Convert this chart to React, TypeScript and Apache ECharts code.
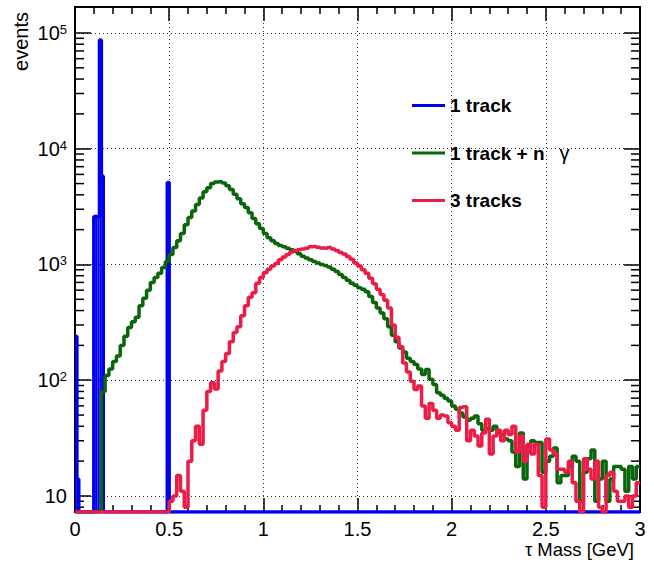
import { useEffect, useRef } from 'react';
import * as echarts from 'echarts';

const FONT = '"Liberation Sans", Arial, Helvetica, sans-serif';

// Mass axis (GeV) and histogram binning
const massMin = 0;
const massMax = 3;
const binWidth = 0.02;
const blueBinWidth = 0.01;

// Event counts axis range (log scale)
const eventsMin = 7.27;
const eventsMax = 167700;

const seriesNames = ['1 track', '1 track + n γ', '3 tracks'];
const seriesColors = ['#0000ee', '#0b660b', '#ec1c46'];

// 1 track: sparse 0.01-GeV bins (low edge, events); every other bin is empty
const blueLowEdges = [0.0, 0.01, 0.1, 0.11, 0.12, 0.13, 0.14, 0.49];
const blueEvents = [240, 14, 2600, 2600, 2600, 87000, 5800, 5100];

// 1 track + n γ: 0.02-GeV bins from 0 to 3
const greenEvents = [
  0, 0, 0, 0, 0, 0, 0, 80, 110, 125,
  145, 162, 200, 240, 285, 320, 350, 440, 510, 600,
  700, 770, 840, 940, 1060, 1220, 1400, 1600, 1850, 2200,
  2550, 2900, 3300, 3750, 4250, 4600, 5000, 5150, 5200, 5050,
  4800, 4450, 4050, 3700, 3350, 3100, 2800, 2500, 2250, 2050,
  1850, 1700, 1600, 1520, 1460, 1420, 1380, 1340, 1300, 1240,
  1180, 1140, 1100, 1060, 1030, 1000, 980, 950, 910, 870,
  820, 770, 730, 690, 660, 630, 610, 580, 530, 470,
  420, 380, 340, 290, 245, 215, 190, 175, 155, 145,
  137, 125, 112, 124, 102, 92, 78, 74, 70, 66,
  60, 56, 52, 48, 45, 47, 49, 42, 37, 38,
  37, 40, 35, 34, 31, 30, 24, 18, 35, 14,
  27, 30, 29, 29, 16, 20, 22, 26, 13, 15,
  15, 18, 22, 20, 9, 16, 21, 25, 9, 14,
  20, 9, 14, 18, 18, 17, 11, 18, 14, 18,
];

// 3 tracks: 0.02-GeV bins from 0 to 3
const redEvents = [
  0, 0, 0, 0, 0, 0, 0, 0, 0, 0,
  0, 0, 0, 0, 0, 0, 0, 0, 0, 0,
  0, 0, 0, 0, 0, 9, 10, 15, 11, 8,
  20, 30, 40, 28, 55, 80, 95, 84, 120, 145,
  170, 215, 258, 290, 360, 440, 520, 570, 690, 770,
  850, 910, 970, 1020, 1100, 1160, 1220, 1280, 1320, 1340,
  1360, 1380, 1420, 1440, 1410, 1390, 1380, 1400, 1360, 1320,
  1270, 1230, 1170, 1110, 1030, 970, 900, 840, 760, 680,
  610, 550, 490, 420, 300, 235, 196, 141, 118, 98,
  83, 89, 60, 47, 63, 55, 47, 50, 49, 43,
  40, 37, 58, 59, 30, 37, 33, 27, 35, 46,
  23, 33, 37, 30, 37, 34, 40, 24, 33, 20,
  28, 23, 28, 15, 8, 31, 25, 23, 17, 17,
  16, 20, 13, 9, 0, 21, 17, 14, 20, 8,
  0, 15, 16, 11, 9, 9, 10, 8, 10, 13,
];

// Expand the sparse 1-track list into full 0.01-GeV bins
const blueBinCount = Math.round((massMax - massMin) / blueBinWidth);
const blueFull: number[] = new Array(blueBinCount).fill(0);
blueLowEdges.forEach((edge, i) => {
  blueFull[Math.round((edge - massMin) / blueBinWidth)] = blueEvents[i];
});

// Step outline of a histogram; empty bins sit on the bottom of the frame
function histogramOutline(values: number[], width: number): number[][] {
  const pts: number[][] = [];
  values.forEach((v, i) => {
    const y = v > 0 ? v : eventsMin;
    const lo = +(massMin + i * width).toFixed(4);
    const hi = +(massMin + (i + 1) * width).toFixed(4);
    pts.push([lo, y], [hi, y]);
  });
  return pts;
}

// Filled bins of the 1-track histogram: [low edge, events]
const blueFillBins = blueLowEdges.map((edge, i) => [edge, blueEvents[i]]);

// Log-axis minor tick positions (2..9 of every decade in range)
const minorTickValues: number[] = [];
for (let d = 1; d <= 1e5; d *= 10) {
  for (let m = 2; m <= 9; m++) {
    const v = m * d;
    if (v > eventsMin && v < eventsMax) minorTickValues.push(v);
  }
}

const yLabel = (v: number) => {
  const e = Math.log10(v);
  const r = Math.round(e);
  if (Math.abs(e - r) > 1e-6) return '';
  return r === 1 ? '{b|10}' : `{b|10}{s|${r}}`;
};

const gridLine = { color: '#333', type: [1, 3] as number[], width: 1 };
const black = { color: '#000', width: 1.5 };

export default function App() {
  const ref = useRef<HTMLDivElement>(null);

  useEffect(() => {
    if (!ref.current) return;
    const chart = echarts.init(ref.current, undefined, { renderer: 'svg' });

    const histLine = (idx: number, data: number[][], width: number) => ({
      type: 'line',
      name: seriesNames[idx],
      data,
      showSymbol: false,
      symbol: 'none',
      clip: true,
      z: 2 + idx,
      itemStyle: { color: seriesColors[idx] },
      lineStyle: { color: seriesColors[idx], width },
      emphasis: { disabled: true },
    });

    const option: any = {
      animation: false,
      backgroundColor: '#ffffff',
      textStyle: { fontFamily: FONT },
      grid: { left: 75, right: 14, top: 7, bottom: 51, containLabel: false, outerBoundsMode: 'none' },
      xAxis: [
        {
          type: 'value',
          min: massMin,
          max: massMax,
          interval: 0.5,
          position: 'bottom',
          axisLine: { show: true, onZero: false, lineStyle: black },
          axisTick: { show: true, inside: true, length: 14, lineStyle: black },
          minorTick: { show: true, splitNumber: 5, length: 7, lineStyle: black },
          axisLabel: { show: true, margin: 7, fontSize: 20, color: '#000', fontFamily: FONT },
          splitLine: { show: true, lineStyle: gridLine },
          minorSplitLine: { show: false },
        },
        {
          type: 'value',
          min: massMin,
          max: massMax,
          interval: 0.5,
          position: 'top',
          axisLine: { show: true, onZero: false, lineStyle: black },
          axisTick: { show: true, inside: true, length: 14, lineStyle: black },
          minorTick: { show: true, splitNumber: 5, length: 7, lineStyle: black },
          axisLabel: { show: false },
          splitLine: { show: false },
        },
      ],
      yAxis: [
        {
          type: 'log',
          logBase: 10,
          min: eventsMin,
          max: eventsMax,
          position: 'left',
          axisLine: { show: true, onZero: false, lineStyle: black },
          axisTick: { show: true, inside: true, length: 16, lineStyle: black },
          axisLabel: {
            show: true,
            margin: 8,
            color: '#000',
            formatter: yLabel,
            rich: {
              b: { fontSize: 20, fontFamily: FONT, color: '#000' },
              s: { fontSize: 13, fontFamily: FONT, color: '#000', verticalAlign: 'top' },
            },
          },
          splitLine: { show: true, lineStyle: gridLine },
        },
        {
          type: 'log',
          logBase: 10,
          min: eventsMin,
          max: eventsMax,
          position: 'right',
          axisLine: { show: true, onZero: false, lineStyle: black },
          axisTick: { show: true, inside: true, length: 16, lineStyle: black },
          axisLabel: { show: false },
          splitLine: { show: false },
        },
      ],
      legend: {
        data: seriesNames,
        orient: 'vertical',
        left: 412,
        top: 96,
        padding: 0,
        itemWidth: 33,
        itemHeight: 3,
        itemGap: 28,
        icon: 'rect',
        selectedMode: false,
        formatter: (name: string) => (name === seriesNames[1] ? '1 track + n{g|γ}' : name),
        textStyle: {
          fontFamily: FONT,
          fontSize: 19,
          fontWeight: 'bold',
          color: '#000',
          rich: {
            g: { fontFamily: FONT, fontSize: 20, fontWeight: 'normal', color: '#000', padding: [0, 0, 0, 15] },
          },
        },
      },
      graphic: [
        {
          type: 'text',
          x: 21,
          y: 12,
          rotation: Math.PI / 2,
          style: { text: 'events', font: `20px ${FONT}`, fill: '#000', align: 'right', verticalAlign: 'middle' },
        },
        {
          type: 'text',
          x: 634,
          y: 549,
          style: { text: 'τ Mass [GeV]', font: `18.5px ${FONT}`, fill: '#000', align: 'right', verticalAlign: 'middle' },
        },
      ],
      series: [
        {
          type: 'custom',
          name: 'frame',
          silent: true,
          z: 1,
          clip: false,
          data: [[massMin, eventsMin]],
          encode: { x: 0, y: 1 },
          renderItem: (params: any) => {
            const cs = params.coordSys;
            return {
              type: 'rect',
              shape: { x: cs.x, y: cs.y, width: cs.width, height: cs.height },
              style: { fill: 'none', stroke: '#000', lineWidth: 2 },
            };
          },
        },
        {
          type: 'custom',
          name: 'minor ticks',
          silent: true,
          z: 1,
          clip: false,
          data: minorTickValues.map((v) => [massMin, v]),
          encode: { x: 0, y: 1 },
          renderItem: (params: any, api: any) => {
            const cs = params.coordSys;
            const y = api.coord([massMin, api.value(1)])[1];
            return {
              type: 'group',
              children: [
                { type: 'line', shape: { x1: cs.x, y1: y, x2: cs.x + 9, y2: y }, style: { stroke: '#000', lineWidth: 1.5 } },
                {
                  type: 'line',
                  shape: { x1: cs.x + cs.width - 9, y1: y, x2: cs.x + cs.width, y2: y },
                  style: { stroke: '#000', lineWidth: 1.5 },
                },
              ],
            };
          },
        },
        {
          type: 'custom',
          name: '1 track fill',
          silent: true,
          z: 2,
          clip: false,
          dimensions: ['mass', 'events'],
          data: blueFillBins,
          encode: { x: 0, y: 1 },
          renderItem: (params: any, api: any) => {
            const lo = api.value(0);
            const v = api.value(1);
            const topLeft = api.coord([lo, v]);
            const right = api.coord([lo + blueBinWidth, v])[0];
            const bottom = params.coordSys.y + params.coordSys.height;
            return {
              type: 'rect',
              shape: {
                x: topLeft[0],
                y: topLeft[1],
                width: Math.max(1, right - topLeft[0]),
                height: Math.max(1, bottom - topLeft[1]),
              },
              style: { fill: seriesColors[0] },
            };
          },
        },
        histLine(0, histogramOutline(blueFull, blueBinWidth), 3.5),
        histLine(1, histogramOutline(greenEvents, binWidth), 3.5),
        histLine(2, histogramOutline(redEvents, binWidth), 3.5),
      ],
    };

    chart.setOption(option);
    return () => chart.dispose();
  }, []);

  return (
    <div
      ref={ref}
      style={{ position: 'absolute', left: 0, top: 0, width: 654, height: 563, background: '#fff' }}
    />
  );
}
